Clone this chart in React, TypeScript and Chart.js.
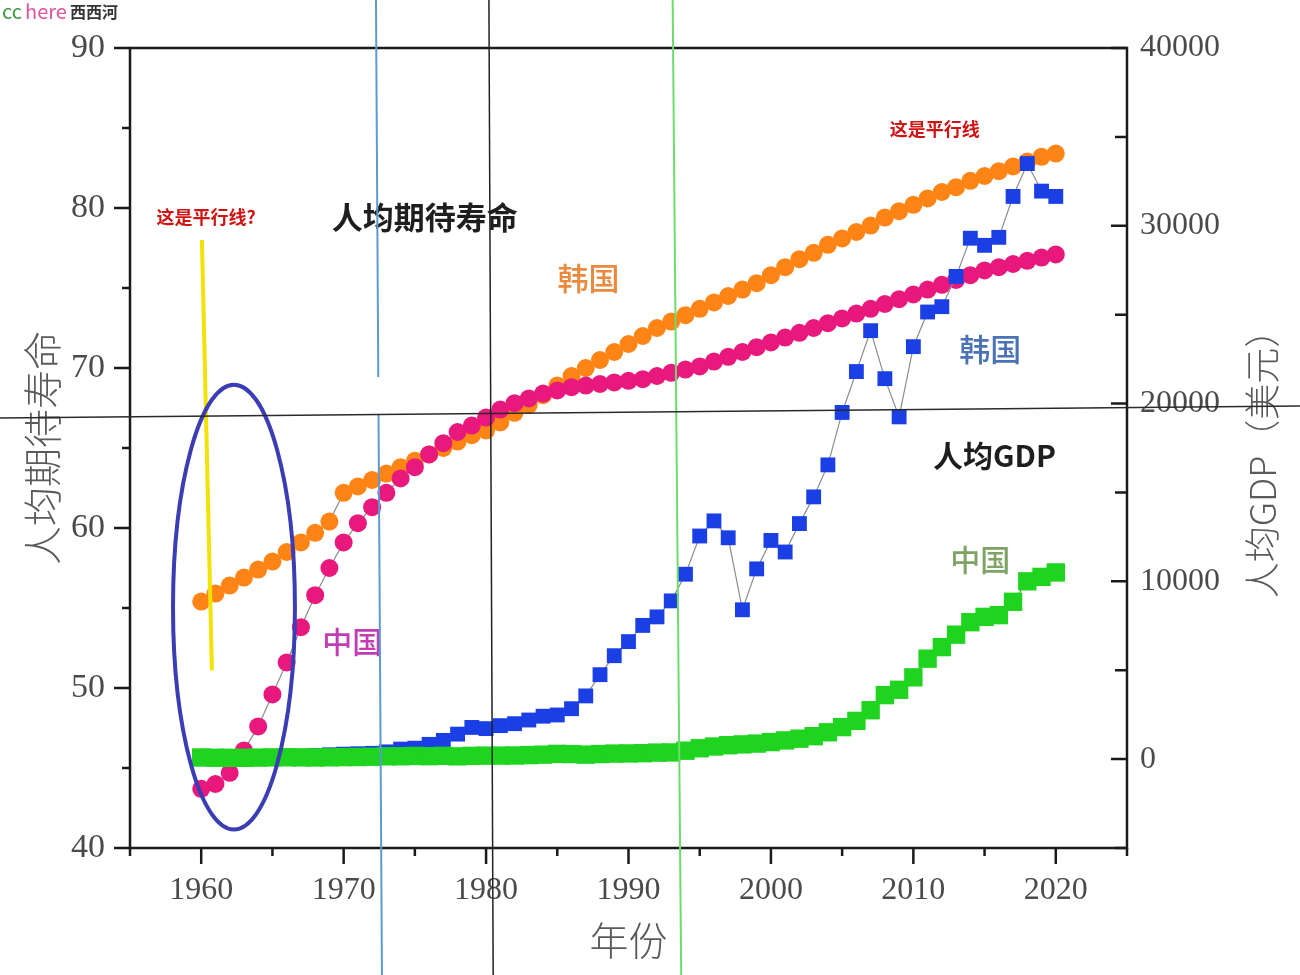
import React, { useEffect, useRef } from 'react';
import { Chart, registerables } from 'chart.js';

Chart.register(...registerables);

// ---------------- data ----------------
const years = [
  1960, 1961, 1962, 1963, 1964, 1965, 1966, 1967, 1968, 1969,
  1970, 1971, 1972, 1973, 1974, 1975, 1976, 1977, 1978, 1979,
  1980, 1981, 1982, 1983, 1984, 1985, 1986, 1987, 1988, 1989,
  1990, 1991, 1992, 1993, 1994, 1995, 1996, 1997, 1998, 1999,
  2000, 2001, 2002, 2003, 2004, 2005, 2006, 2007, 2008, 2009,
  2010, 2011, 2012, 2013, 2014, 2015, 2016, 2017, 2018, 2019,
  2020,
];

// 人均期待寿命 (years) – China
const chinaLifeExpectancy = [
  43.7, 44.0, 44.7, 46.1, 47.6, 49.6, 51.6, 53.8, 55.8, 57.5,
  59.1, 60.3, 61.3, 62.2, 63.1, 63.8, 64.6, 65.3, 66.0, 66.4,
  66.9, 67.4, 67.8, 68.1, 68.4, 68.6, 68.8, 68.9, 69.0, 69.1,
  69.2, 69.3, 69.5, 69.7, 69.9, 70.1, 70.4, 70.7, 71.0, 71.3,
  71.6, 71.9, 72.2, 72.5, 72.8, 73.1, 73.4, 73.7, 74.0, 74.3,
  74.6, 74.9, 75.2, 75.5, 75.8, 76.1, 76.3, 76.5, 76.7, 76.9,
  77.1,
];

// 人均期待寿命 (years) – Korea
const koreaLifeExpectancy = [
  55.4, 55.9, 56.4, 56.9, 57.4, 57.9, 58.5, 59.1, 59.7, 60.4,
  62.2, 62.6, 63.0, 63.4, 63.8, 64.2, 64.6, 65.0, 65.4, 65.8,
  66.1, 66.6, 67.2, 67.7, 68.3, 68.9, 69.5, 70.0, 70.5, 71.0,
  71.5, 72.0, 72.5, 72.9, 73.3, 73.7, 74.1, 74.5, 74.9, 75.3,
  75.8, 76.3, 76.8, 77.2, 77.7, 78.1, 78.5, 78.9, 79.4, 79.8,
  80.2, 80.6, 81.0, 81.3, 81.7, 82.0, 82.3, 82.6, 82.9, 83.2,
  83.4,
];

// 人均GDP (USD) – Korea
const koreaGdpPerCapita = [
  158, 94, 106, 146, 124, 109, 133, 161, 199, 243,
  279, 301, 324, 407, 563, 615, 830, 1053, 1406, 1783,
  1715, 1883, 1993, 2199, 2413, 2482, 2835, 3555, 4749, 5817,
  6610, 7520, 8000, 8900, 10400, 12550, 13400, 12450, 8400, 10700,
  12300, 11650, 13250, 14750, 16550, 19500, 21800, 24100, 21400, 19250,
  23200, 25150, 25450, 27150, 29300, 28900, 29350, 31650, 33500, 31950,
  31650,
];

// 人均GDP (USD) – China
const chinaGdpPerCapita = [
  90, 76, 71, 74, 85, 98, 104, 97, 91, 100,
  113, 119, 132, 157, 160, 178, 165, 185, 156, 184,
  195, 197, 203, 225, 250, 294, 282, 252, 284, 311,
  318, 333, 366, 377, 473, 610, 709, 782, 829, 873,
  959, 1053, 1149, 1289, 1509, 1800, 2150, 2750, 3600, 3900,
  4600, 5650, 6300, 7000, 7700, 8000, 8100, 8850, 10000, 10250,
  10500,
];

const yearTickLabels = [1960, 1970, 1980, 1990, 2000, 2010, 2020];
const lifeTickLabels = [40, 50, 60, 70, 80, 90];
const gdpTickLabels = [0, 10000, 20000, 30000, 40000];

// ---------------- styling ----------------
const SERIF = '"Liberation Serif", "DejaVu Serif", serif';
const CJK = '"Noto Sans CJK SC", "Noto Sans", sans-serif';

const toPoints = (vals: number[]) => years.map((yr, i) => ({ x: yr, y: vals[i] }));

// text annotations placed in data coordinates (year, life expectancy)
const annotations = [
  { text: '人均期待寿命', year: 1975.7, life: 79.4, color: '#1e1e1e', font: `bold 31px ${CJK}` },
  { text: '韩国', year: 1987.2, life: 75.6, color: '#e98a3e', font: `500 31px ${CJK}` },
  { text: '中国', year: 1970.6, life: 52.9, color: '#c23db2', font: `500 30px ${CJK}` },
  { text: '韩国', year: 2015.4, life: 71.2, color: '#4a72b4', font: `500 31px ${CJK}` },
  { text: '人均GDP', year: 2015.7, life: 64.55, color: '#1e1e1e', font: `bold 30px ${CJK}` },
  { text: '中国', year: 2014.7, life: 58.0, color: '#7ea364', font: `500 30px ${CJK}` },
  { text: '这是平行线?', year: 1960.35, life: 79.45, color: '#cf1414', font: `bold 18px ${CJK}` },
  { text: '这是平行线', year: 2011.5, life: 84.9, color: '#cf1414', font: `bold 18px ${CJK}` },
];

const overlayPlugin = {
  id: 'overlay',
  afterDraw(chart: any) {
    const { ctx, chartArea: ca, scales } = chart;
    const xs = scales.x;
    const yl = scales.y;
    const yr = scales.y1;
    const H = chart.height;
    const W = chart.width;
    ctx.save();

    // frame
    ctx.strokeStyle = '#1a1a1a';
    ctx.lineWidth = 2.5;
    ctx.strokeRect(ca.left, ca.top, ca.right - ca.left, ca.bottom - ca.top);

    // tick marks
    ctx.lineWidth = 2.5;
    ctx.beginPath();
    yl.ticks.forEach((t: any) => {
      const p = yl.getPixelForValue(t.value);
      const len = lifeTickLabels.includes(t.value) ? 16 : 8;
      ctx.moveTo(ca.left, p);
      ctx.lineTo(ca.left - len, p);
    });
    xs.ticks.forEach((t: any) => {
      const p = xs.getPixelForValue(t.value);
      const len = yearTickLabels.includes(t.value) ? 16 : 8;
      ctx.moveTo(p, ca.bottom);
      ctx.lineTo(p, ca.bottom + len);
    });
    yr.ticks.forEach((t: any) => {
      const p = yr.getPixelForValue(t.value);
      const len = gdpTickLabels.includes(t.value) ? 16 : 12;
      ctx.moveTo(ca.right, p);
      ctx.lineTo(ca.right - len, p);
    });
    ctx.stroke();

    // axis titles
    ctx.fillStyle = '#5a5a5a';
    ctx.textAlign = 'center';
    ctx.textBaseline = 'middle';
    ctx.font = `300 39px ${CJK}`;
    ctx.save();
    ctx.translate(ca.left - 88, (ca.top + ca.bottom) / 2);
    ctx.rotate(-Math.PI / 2);
    ctx.fillText('人均期待寿命', 0, 0);
    ctx.restore();
    ctx.save();
    ctx.font = `300 36px ${CJK}`;
    ctx.translate(ca.right + 135, (ca.top + ca.bottom) / 2 + 7);
    ctx.rotate(-Math.PI / 2);
    ctx.fillText('人均GDP（美元）', 0, 0);
    ctx.restore();
    ctx.font = `300 39px ${CJK}`;
    ctx.fillText('年份', (ca.left + ca.right) / 2, ca.bottom + 92);

    // in-plot annotations
    annotations.forEach((a) => {
      ctx.font = a.font;
      ctx.fillStyle = a.color;
      ctx.fillText(a.text, xs.getPixelForValue(a.year), yl.getPixelForValue(a.life));
    });

    // hand-drawn overlay strokes
    // yellow line
    ctx.strokeStyle = '#f2e205';
    ctx.lineWidth = 4;
    ctx.beginPath();
    ctx.moveTo(xs.getPixelForValue(1960.05), yl.getPixelForValue(78.0));
    ctx.lineTo(xs.getPixelForValue(1960.75), yl.getPixelForValue(51.1));
    ctx.stroke();

    // blue ellipse
    const ecx = xs.getPixelForValue(1962.3);
    const ecy = yl.getPixelForValue(55.06);
    const erx = xs.getPixelForValue(1962.3 + 4.28) - ecx;
    const ery = yl.getPixelForValue(55.06) - yl.getPixelForValue(55.06 + 13.9);
    ctx.strokeStyle = '#3a3db4';
    ctx.lineWidth = 4;
    ctx.beginPath();
    ctx.ellipse(ecx, ecy, erx, ery, 0, 0, Math.PI * 2);
    ctx.stroke();

    // vertical lines (year at top edge, year at bottom edge)
    const vline = (y0: number, y1: number, color: string, w: number, gap?: [number, number]) => {
      const xa = xs.getPixelForValue(y0);
      const xb = xs.getPixelForValue(y1);
      const xAt = (yy: number) => xa + (xb - xa) * (yy / H);
      ctx.strokeStyle = color;
      ctx.lineWidth = w;
      ctx.beginPath();
      if (gap) {
        ctx.moveTo(xa, 0);
        ctx.lineTo(xAt(gap[0]), gap[0]);
        ctx.moveTo(xAt(gap[1]), gap[1]);
        ctx.lineTo(xb, H);
      } else {
        ctx.moveTo(xa, 0);
        ctx.lineTo(xb, H);
      }
      ctx.stroke();
    };
    vline(1972.27, 1972.69, '#5d9ad2', 2, [377, 414]);
    vline(1980.2, 1980.5, '#222222', 1.5);
    vline(1993.1, 1993.7, '#6ddc6d', 2);

    // horizontal black line
    ctx.strokeStyle = '#2a2a2a';
    ctx.lineWidth = 1.5;
    ctx.beginPath();
    ctx.moveTo(0, yl.getPixelForValue(66.875));
    ctx.lineTo(W, yl.getPixelForValue(67.625));
    ctx.stroke();

    // watermark
    ctx.textAlign = 'left';
    ctx.textBaseline = 'alphabetic';
    ctx.font = `20px ${CJK}`;
    ctx.fillStyle = '#3f9a45';
    ctx.fillText('cc', 2, 19);
    ctx.fillStyle = '#e0559c';
    ctx.fillText('here', 25, 19);
    ctx.font = `bold 16px ${CJK}`;
    ctx.fillStyle = '#333333';
    ctx.fillText('西西河', 70, 18);

    ctx.restore();
  },
};

export default function App() {
  const ref = useRef<HTMLCanvasElement>(null);

  useEffect(() => {
    document.body.style.margin = '0';
    const canvas = ref.current;
    if (!canvas) return;
    const lineColor = '#8c8c8c';
    const chart = new Chart(canvas, {
      type: 'line',
      data: {
        datasets: [
          {
            label: '中国 人均GDP',
            data: toPoints(chinaGdpPerCapita),
            yAxisID: 'y1',
            order: 0,
            pointStyle: 'rect',
            pointRadius: 13,
            pointBackgroundColor: '#1fd41f',
            pointBorderColor: '#1fd41f',
            pointBorderWidth: 0,
            borderColor: lineColor,
            borderWidth: 1.2,
          },
          {
            label: '韩国 人均GDP',
            data: toPoints(koreaGdpPerCapita),
            yAxisID: 'y1',
            order: 1,
            pointStyle: 'rect',
            pointRadius: 10.5,
            pointBackgroundColor: '#1a3fe4',
            pointBorderColor: '#1a3fe4',
            pointBorderWidth: 0,
            borderColor: lineColor,
            borderWidth: 1.2,
          },
          {
            label: '中国 人均期待寿命',
            data: toPoints(chinaLifeExpectancy),
            yAxisID: 'y',
            order: 2,
            pointStyle: 'circle',
            pointRadius: 9,
            pointBackgroundColor: '#e8187c',
            pointBorderColor: '#e8187c',
            pointBorderWidth: 0,
            borderColor: lineColor,
            borderWidth: 1.2,
          },
          {
            label: '韩国 人均期待寿命',
            data: toPoints(koreaLifeExpectancy),
            yAxisID: 'y',
            order: 3,
            pointStyle: 'circle',
            pointRadius: 9,
            pointBackgroundColor: '#ff8416',
            pointBorderColor: '#ff8416',
            pointBorderWidth: 0,
            borderColor: lineColor,
            borderWidth: 1.2,
          },
        ],
      },
      options: {
        responsive: false,
        animation: false,
        devicePixelRatio: 1,
        layout: { padding: { top: 48, left: 0, right: 0, bottom: 0 } },
        plugins: {
          legend: { display: false },
          tooltip: { enabled: false },
          title: { display: false },
        },
        elements: { line: { tension: 0 } },
        scales: {
          x: {
            type: 'linear',
            position: 'bottom',
            min: 1955,
            max: 2025,
            grid: { display: false, drawTicks: false },
            border: { display: false },
            ticks: {
              stepSize: 5,
              padding: 23,
              autoSkip: false,
              maxRotation: 0,
              color: '#4a4a4a',
              font: { family: SERIF, size: 32 },
              callback: (v: any) => (yearTickLabels.includes(Number(v)) ? String(v) : ''),
            },
            afterFit: (s: any) => {
              s.height = 127;
            },
          },
          y: {
            type: 'linear',
            position: 'left',
            min: 40,
            max: 90,
            grid: { display: false, drawTicks: false },
            border: { display: false },
            ticks: {
              stepSize: 5,
              padding: 25,
              autoSkip: false,
              color: '#4a4a4a',
              font: { family: SERIF, size: 34 },
              callback: (v: any) => (lifeTickLabels.includes(Number(v)) ? String(v) : ''),
            },
            afterFit: (s: any) => {
              s.width = 130;
            },
          },
          y1: {
            type: 'linear',
            position: 'right',
            min: -5000,
            max: 40000,
            grid: { display: false, drawTicks: false },
            border: { display: false },
            ticks: {
              stepSize: 5000,
              padding: 13,
              autoSkip: false,
              color: '#4a4a4a',
              font: { family: SERIF, size: 32 },
              callback: (v: any) => (gdpTickLabels.includes(Number(v)) ? String(v) : ''),
            },
            afterFit: (s: any) => {
              s.width = 173;
            },
          },
        },
      },
      plugins: [overlayPlugin],
    } as any);
    return () => chart.destroy();
  }, []);

  return (
    <div style={{ width: 1300, height: 975, background: '#ffffff' }}>
      <canvas ref={ref} width={1300} height={975} style={{ display: 'block' }} />
    </div>
  );
}
